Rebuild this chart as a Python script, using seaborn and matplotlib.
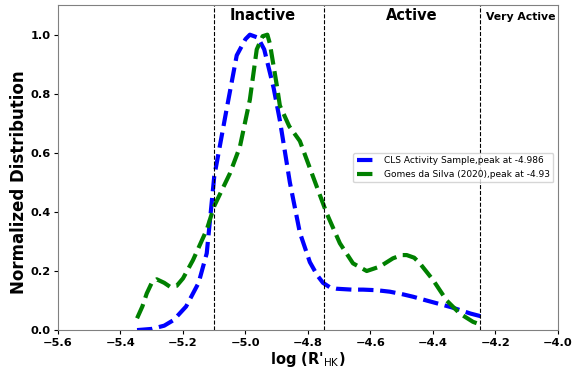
import numpy as np
import pandas as pd
import matplotlib
matplotlib.use("Agg")
import matplotlib.pyplot as plt
import seaborn as sns

# CLS sample curve
cls_x = [-5.347, -5.30, -5.26, -5.23, -5.19, -5.15, -5.124, -5.10, -5.06, -5.028, -5.00,
         -4.986, -4.96, -4.94, -4.91, -4.89, -4.858, -4.826, -4.794, -4.77, -4.752, -4.73,
         -4.708, -4.66, -4.624, -4.58, -4.538, -4.50, -4.464, -4.42, -4.378, -4.34,
         -4.314, -4.28, -4.24]
cls_y = [0.0, 0.004, 0.015, 0.034, 0.08, 0.16, 0.26, 0.52, 0.75, 0.93, 0.985,
         1.0, 0.99, 0.95, 0.82, 0.71, 0.50, 0.33, 0.23, 0.185, 0.16, 0.145,
         0.14, 0.137, 0.137, 0.135, 0.13, 0.122, 0.113, 0.10, 0.088, 0.077,
         0.068, 0.056, 0.045]

# Gomes da Silva (2020) curve
gds_x = [-5.347, -5.33, -5.316, -5.30, -5.284, -5.26, -5.242, -5.22, -5.20, -5.168, -5.124,
         -5.10, -5.05, -5.018, -4.986, -4.964, -4.945, -4.93, -4.922, -4.90, -4.89, -4.86,
         -4.826, -4.784, -4.74, -4.698, -4.656, -4.612, -4.57, -4.528, -4.50, -4.484,
         -4.46, -4.442, -4.40, -4.356, -4.314, -4.272, -4.244]
gds_y = [0.04, 0.08, 0.124, 0.16, 0.172, 0.16, 0.147, 0.15, 0.175, 0.237, 0.34,
         0.42, 0.53, 0.62, 0.78, 0.95, 0.995, 1.0, 0.97, 0.83, 0.76, 0.69,
         0.64, 0.52, 0.395, 0.294, 0.226, 0.2, 0.215, 0.243, 0.254, 0.254,
         0.245, 0.226, 0.17, 0.10, 0.056, 0.028, 0.017]

cls_label = "CLS Activity Sample,peak at -4.986"
gds_label = "Gomes da Silva (2020),peak at -4.93"

boundaries = [-5.1, -4.75, -4.25]
region_names = ["Inactive", "Active", "Very Active"]
region_x = [-5.05, -4.55, -4.23]
region_sizes = [10.5, 10.5, 7.8]

sns.set_style("ticks")
plt.rcParams["font.family"] = ["DejaVu Sans"]
plt.rcParams["axes.edgecolor"] = "#808080"
for key in ["text.color", "axes.labelcolor", "xtick.color", "ytick.color"]:
    plt.rcParams[key] = "black"

fig = plt.figure(figsize=(5.8, 3.68), dpi=100)
ax = fig.add_axes([0.1, 0.103, 0.862, 0.883])

sns.lineplot(x=cls_x, y=cls_y, ax=ax, color="blue", linestyle="--", linewidth=3,
             sort=False, label=cls_label)
sns.lineplot(x=gds_x, y=gds_y, ax=ax, color="green", linestyle="--", linewidth=3,
             sort=False, label=gds_label)

for b in boundaries:
    ax.axvline(b, color="black", linestyle="--", linewidth=0.8)

for name, xpos, fs in zip(region_names, region_x, region_sizes):
    ax.text(xpos, 1.05, name, fontsize=fs, fontweight="bold", ha="left", va="baseline")

ax.set_xlim(-5.6, -4.0)
ax.set_ylim(0, 1.1)
ax.set_xticks(np.arange(-5.6, -3.99, 0.2))
ax.set_yticks(np.arange(0, 1.01, 0.2))
ax.tick_params(labelsize=8.2, length=3, width=0.8, pad=2.5)
ax.tick_params(axis="x", colors="black")
for lab in ax.get_xticklabels() + ax.get_yticklabels():
    lab.set_fontweight("bold")

ax.set_xlabel(r"log (R'$_{\rm HK}$)", fontsize=10.5, fontweight="bold")
ax.set_ylabel("Normalized Distribution", fontsize=12, fontweight="bold")
ax.xaxis.set_label_coords(0.5, -0.062)
ax.yaxis.set_label_coords(-0.06, 0.454)

ax.legend(loc="center right", fontsize=6.5, handlelength=2.2, framealpha=0.8)

fig.savefig("out.png", dpi=100)
